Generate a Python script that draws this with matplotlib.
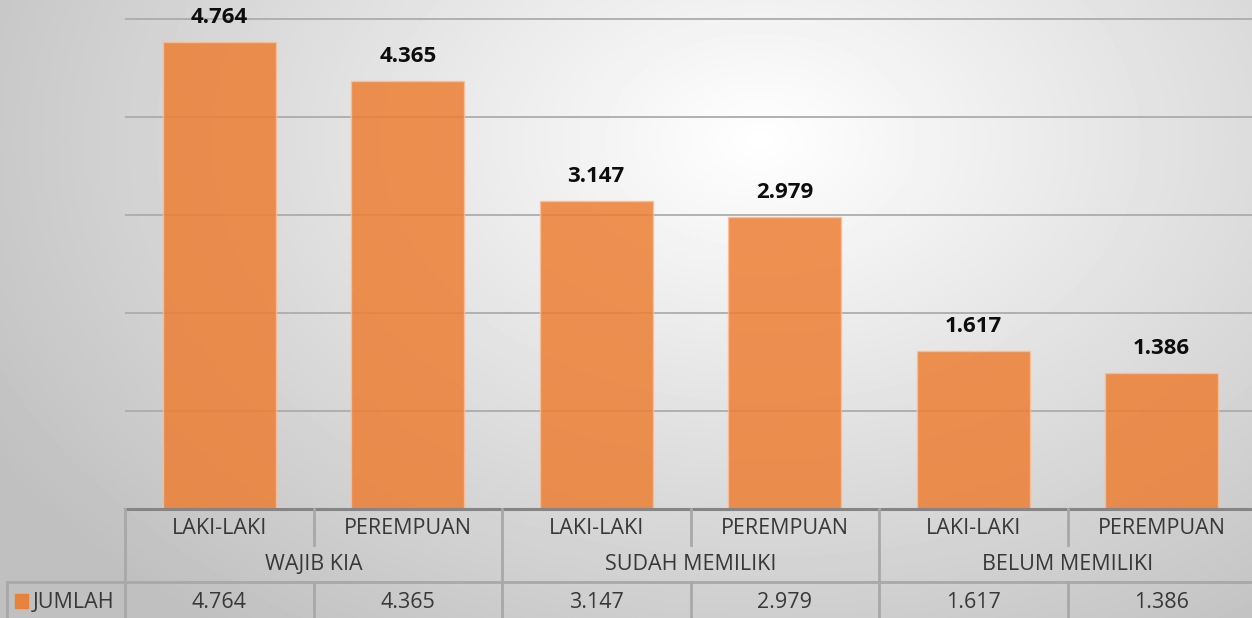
import numpy as np
import matplotlib
matplotlib.use("Agg")
import matplotlib.pyplot as plt
from matplotlib.transforms import blended_transform_factory

# data
groups = ["WAJIB KIA", "SUDAH MEMILIKI", "BELUM MEMILIKI"]
genders = ["LAKI-LAKI", "PEREMPUAN"]
jumlah = [4764, 4365, 3147, 2979, 1617, 1386]
series_name = "JUMLAH"

W, H = 1252, 618
fig = plt.figure(figsize=(W / 100, H / 100), dpi=100)

# soft radial background
bg = fig.add_axes([0, 0, 1, 1], zorder=0)
yy, xx = np.mgrid[0:H, 0:W]
r = np.sqrt(((xx - 760) / 900.0) ** 2 + ((yy - 140) / 620.0) ** 2)
shade = np.clip(1.0 - 0.25 * r, 0.75, 1.0)
bg.imshow(shade, cmap="gray", vmin=0, vmax=1, extent=[0, W, H, 0], aspect="auto")
bg.set_xlim(0, W)
bg.set_ylim(H, 0)
bg.axis("off")

# plot area in pixel terms (runs a little past the right edge)
left, right, top, base = 125, 1256, 0, 509
ax = fig.add_axes([left / W, (H - base) / H, (right - left) / W, (base - top) / H], zorder=2)
ax.patch.set_alpha(0)
ymax = 5000 + 19 / 98.0 * 1000
ax.set_ylim(0, ymax)
ax.set_xlim(-0.5, len(jumlah) - 0.5)

for v in range(1000, 6000, 1000):
    ax.axhline(v, color="#acacac", lw=1.3, zorder=1)

x = np.arange(len(jumlah))
ax.bar(x, jumlah, width=0.6, color="#ED7D31", alpha=0.84,
       edgecolor="#F6C09A", linewidth=1.0, zorder=2)

fmt = lambda v: f"{v / 1000:.3f}"
for xi, v in zip(x, jumlah):
    ax.annotate(fmt(v), (xi, v), xytext=(0, 13.5), textcoords="offset points",
                ha="center", va="baseline", fontsize=16, fontweight="bold",
                family="Open Sans", color="#0d0d0d", zorder=3)

for s in ax.spines.values():
    s.set_visible(False)
ax.set_xticks([])
ax.set_yticks([])

# data table below the plot
tr = blended_transform_factory(ax.transData, bg.transData)
line_c = "#a8a8a8"
txt_c = "#383838"
tk = dict(transform=tr, clip_on=False, zorder=4)

ax.plot([-0.5, 5.5], [base, base], color="#858585", lw=2.2, **tk)
ax.plot([-0.5, -0.5], [base, H], color=line_c, lw=2, **tk)
for i in range(1, len(jumlah)):
    b = i - 0.5
    if i % 2 == 0:
        ax.plot([b, b], [base, H], color=line_c, lw=2, **tk)
    else:
        ax.plot([b, b], [base, 545], color=line_c, lw=2, **tk)
        ax.plot([b, b], [582, H], color=line_c, lw=2, **tk)

# header cell of the value row sits left of the plot
bg.plot([7, W], [582, 582], color=line_c, lw=2, clip_on=False, zorder=4)
bg.plot([7, 7], [582, H], color=line_c, lw=2, clip_on=False, zorder=4)

tfont = dict(fontsize=15.5, family="Open Sans", color=txt_c, ha="center", va="center")
for i, v in enumerate(jumlah):
    ax.text(i, 528, genders[i % 2], **tfont, **tk)
    ax.text(i, 602, fmt(v), **tfont, **tk)
for g, name in enumerate(groups):
    ax.text(2 * g + 0.5, 564, name, **tfont, **tk)

bg.add_patch(plt.Rectangle((15, 594), 13, 14, color="#ED7D31", alpha=0.9, zorder=4))
bg.text(33, 602, series_name, fontsize=15.5, family="Open Sans", color=txt_c,
        ha="left", va="center", zorder=4)

fig.savefig("out.png", dpi=100)
